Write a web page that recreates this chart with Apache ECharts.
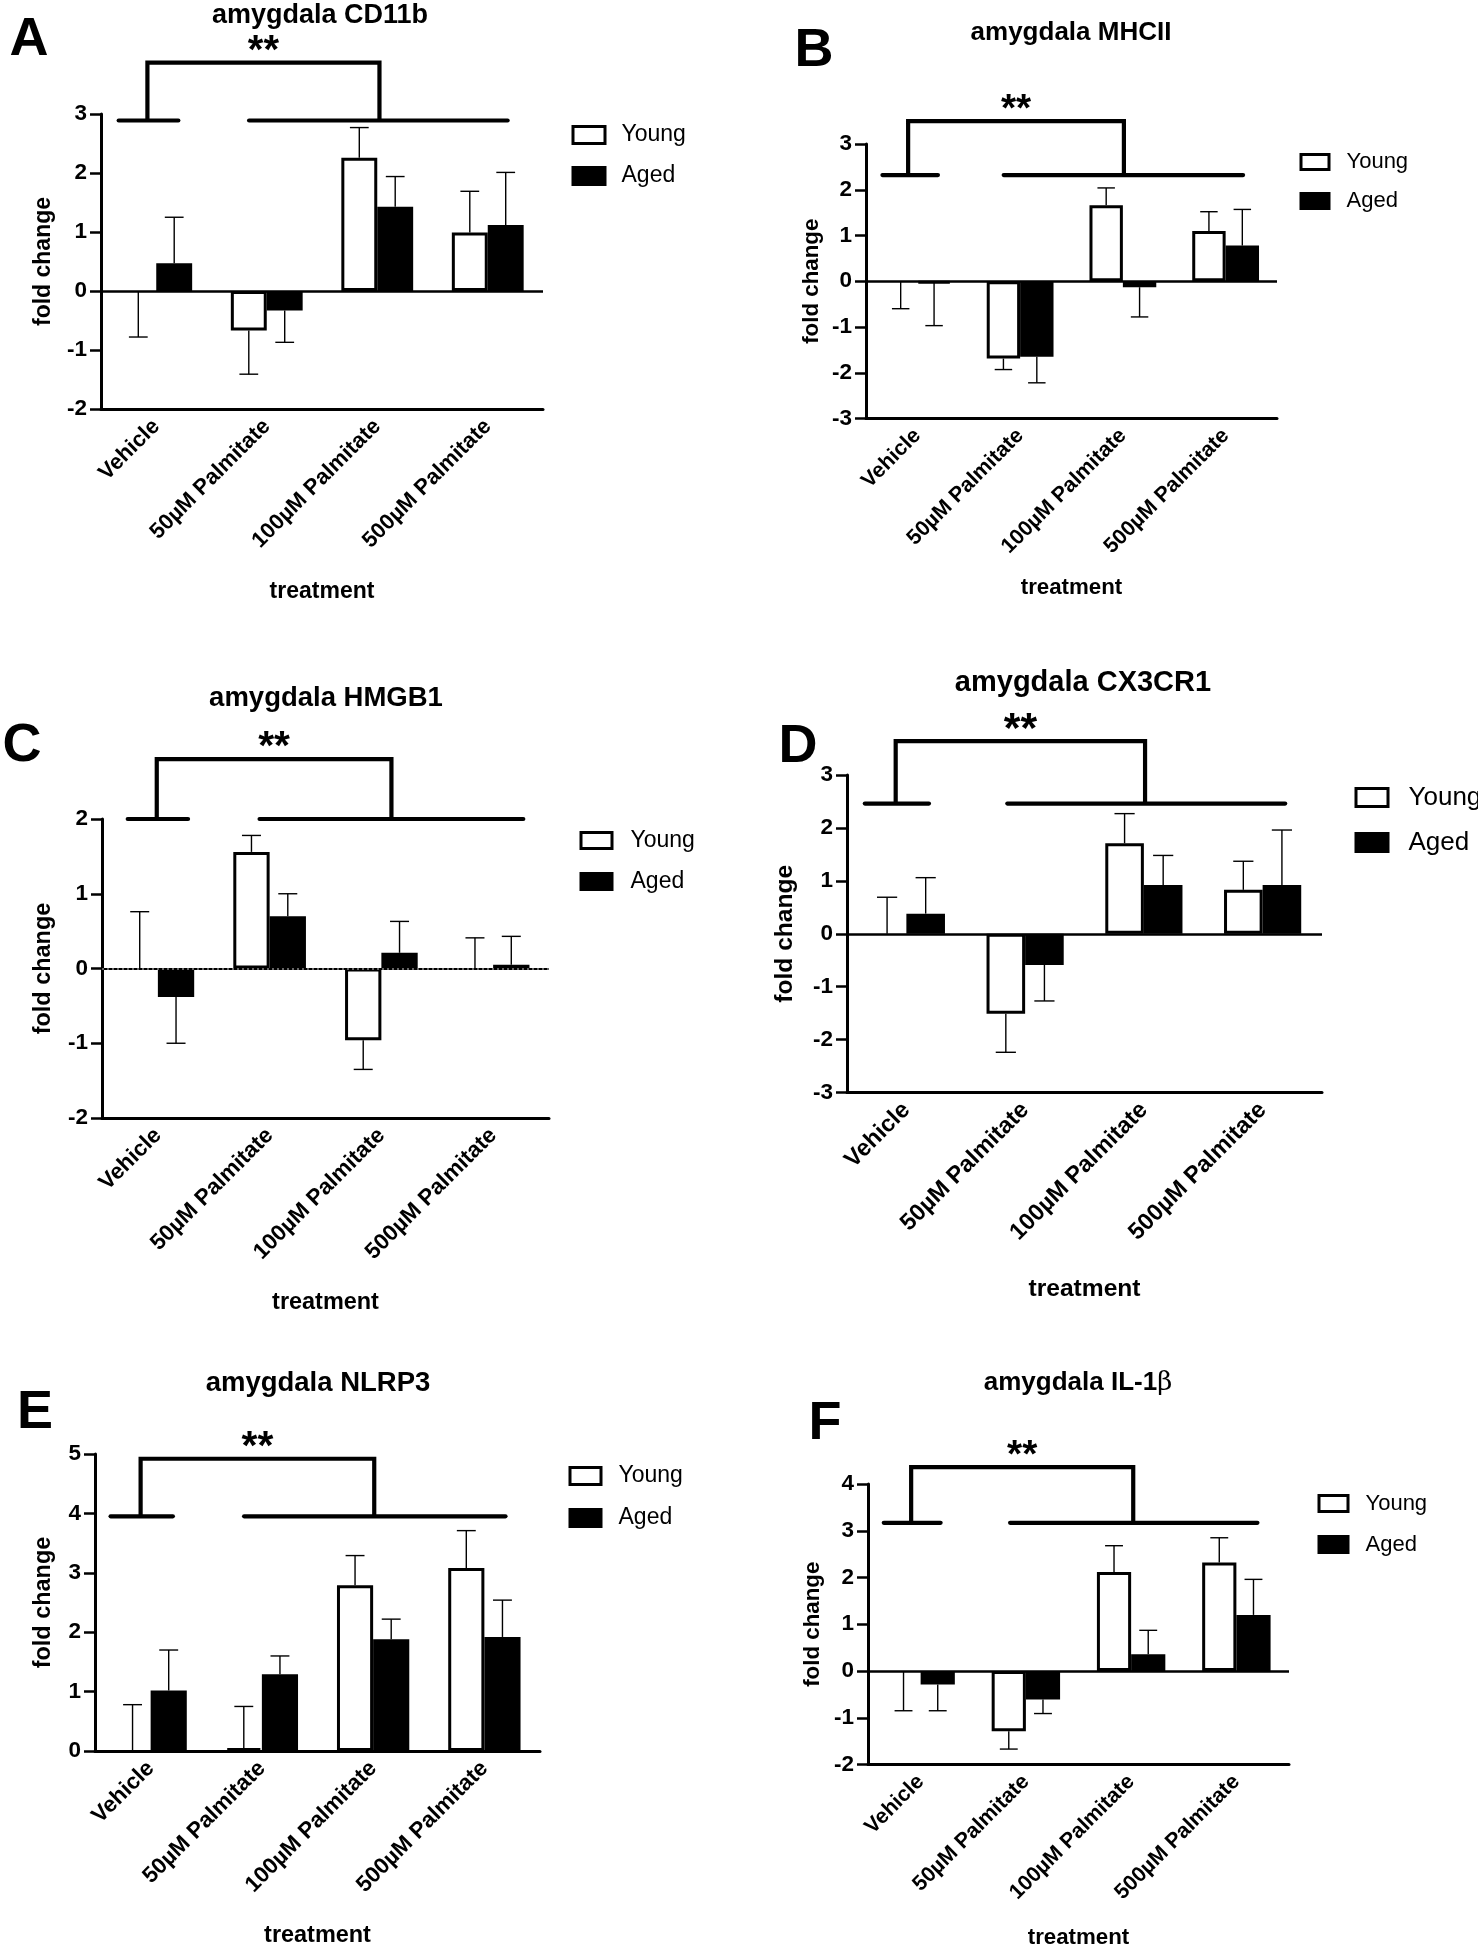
<!DOCTYPE html>
<html>
<head>
<meta charset="utf-8">
<script src="https://cdn.jsdelivr.net/npm/echarts@6/dist/echarts.min.js"></script>
<style>
html,body{margin:0;padding:0;background:#fff;}
#c{width:1478px;height:1950px;}
</style>
</head>
<body>
<div id="c"></div>
<script>
// ---------- DATA ----------
const categories = ['Vehicle', '50µM Palmitate', '100µM Palmitate', '500µM Palmitate'];
const seriesNames = ['Young', 'Aged'];

// A: amygdala CD11b
const youngA = [0, -0.67, 2.26, 0.99];
const youngErrA = [-0.78, -1.41, 2.77, 1.69];
const agedA = [0.47, -0.33, 1.43, 1.12];
const agedErrA = [1.25, -0.87, 1.94, 2.01];
// B: amygdala MHCII
const youngB = [0, -1.69, 1.66, 1.10];
const youngErrB = [-0.60, -1.93, 2.04, 1.52];
const agedB = [-0.04, -1.65, -0.13, 0.78];
const agedErrB = [-0.97, -2.22, -0.78, 1.57];
// C: amygdala HMGB1
const youngC = [0, 1.56, -0.96, 0];
const youngErrC = [0.76, 1.78, -1.35, 0.41];
const agedC = [-0.38, 0.70, 0.21, 0.05];
const agedErrC = [-1.00, 1.00, 0.63, 0.43];
// D: amygdala CX3CR1
const youngD = [0, -1.51, 1.71, 0.83];
const youngErrD = [0.69, -2.24, 2.27, 1.37];
const agedD = [0.38, -0.59, 0.92, 0.92];
const agedErrD = [1.06, -1.27, 1.48, 1.96];
// E: amygdala NLRP3
const youngE = [0, 0.05, 2.79, 3.08];
const youngErrE = [0.78, 0.75, 3.29, 3.71];
const agedE = [1.02, 1.29, 1.88, 1.92];
const agedErrE = [1.70, 1.60, 2.22, 2.54];
// F: amygdala IL-1β
const youngF = [0, -1.29, 2.12, 2.32];
const youngErrF = [-0.85, -1.67, 2.68, 2.85];
const agedF = [-0.29, -0.61, 0.36, 1.20];
const agedErrF = [-0.85, -0.91, 0.87, 1.96];

// y-axis ranges (tick labels every 1)
const yRangeA = [-2, 3];
const yRangeB = [-3, 3];
const yRangeC = [-2, 2];
const yRangeD = [-3, 3];
const yRangeE = [0, 5];
const yRangeF = [-2, 4];

// significance brackets in data units:
// [y of low lines, y of bracket top, short from, short to, long from, long to, left leg, right leg] (x in category index units)
const bracketA = [2.89, 3.87, -0.34, 0.20, 0.84, 3.18, -0.08, 2.02];
const bracketB = [2.32, 3.50, -0.34, 0.20, 0.84, 3.17, -0.09, 2.01];
const bracketC = [2.00, 2.80, -0.27, 0.27, 0.91, 3.27, -0.01, 2.09];
const bracketD = [2.46, 3.64, -0.35, 0.19, 0.85, 3.19, -0.09, 2.01];
const bracketE = [3.95, 4.92, -0.36, 0.20, 0.84, 3.19, -0.09, 2.01];
const bracketF = [3.17, 4.36, -0.35, 0.19, 0.85, 3.20, -0.09, 2.02];
const sigLabel = '**';

// ---------- LAYOUT (pixels / styles) ----------
const FONT = '"Liberation Sans", Arial, Helvetica, sans-serif';
// lg: [icon left, icon top, icon w, icon h, item pitch, text pad, font size]
const panels = [
  {letter:'A', title:'amygdala CD11b', young:youngA, youngErr:youngErrA, aged:agedA, agedErr:agedErrA, yr:yRangeA, br:bracketA,
   grid:[101,114,442,295], t:[320,16,27], L:[29,40], lg:[571.5,126.5,32,17,41,11.5,23], yGap:45.5, xGap:171, k:1},
  {letter:'B', title:'amygdala MHCII', young:youngB, youngErr:youngErrB, aged:agedB, agedErr:agedErrB, yr:yRangeB, br:bracketB,
   grid:[866,144,411,274.5], t:[1071,33,26], L:[814,51], lg:[1299.5,154.5,28,15,39,12.5,22], yGap:43, xGap:158, k:0.97},
  {letter:'C', title:'amygdala HMGB1', young:youngC, youngErr:youngErrC, aged:agedC, agedErr:agedErrC, yr:yRangeC, br:bracketC,
   grid:[102,819,447,299], t:[326,698,27.5], L:[22,746], lg:[579.5,832.5,31,16,41,13.5,23], yGap:46.5, xGap:173.5, k:1.02, dotted:true},
  {letter:'D', title:'amygdala CX3CR1', young:youngD, youngErr:youngErrD, aged:agedD, agedErr:agedErrD, yr:yRangeD, br:bracketD,
   grid:[847,775,475,317.5], t:[1083,683,29], L:[798,747], lg:[1354.5,788.5,32,18,45,15.5,26], yGap:49.5, xGap:184, k:1.07},
  {letter:'E', title:'amygdala NLRP3', young:youngE, youngErr:youngErrE, aged:agedE, agedErr:agedErrE, yr:yRangeE, br:bracketE,
   grid:[95,1454,445,297], t:[318,1383,27.5], L:[35,1413], lg:[568.5,1467.5,31,17,42,12.5,23], yGap:39.5, xGap:173.5, k:1.02},
  {letter:'F', title:'amygdala IL-1{b|β}', young:youngF, youngErr:youngErrF, aged:agedF, agedErr:agedErrF, yr:yRangeF, br:bracketF,
   grid:[868,1484,421,282], t:[1078,1383,26], L:[825,1424], lg:[1317.5,1495.5,29,16,41,12.5,22], yGap:44, xGap:162.5, k:0.97}
];

const chart = echarts.init(document.getElementById('c'), null, {renderer:'canvas', width:1478, height:1950});
const option = {animation:false, backgroundColor:'#fff', grid:[], xAxis:[], yAxis:[], series:[], legend:[], graphic:[]};

function errRender(params, api) {
  const cat = api.value(0), mean = api.value(1), end = api.value(2), side = api.value(3);
  const w = api.size([1, 0])[0];
  const base = api.coord([cat, mean]);
  const tip = api.coord([cat, end]);
  const x = base[0] + side * 0.1625 * w;
  const half = 0.085 * w;
  const st = {stroke:'#000', lineWidth:1.4};
  return {type:'group', children:[
    {type:'line', shape:{x1:x, y1:base[1], x2:x, y2:tip[1]}, style:st},
    {type:'line', shape:{x1:x-half, y1:tip[1], x2:x+half, y2:tip[1]}, style:st}
  ]};
}

function bracketRender(b, k) {
  return function (params, api) {
    const w = api.size([1, 0])[0];
    const p0 = api.coord([0, b[0]]);
    const yLow = p0[1];
    const yTop = api.coord([0, b[1]])[1];
    const X = f => p0[0] + f * w;
    const st = {stroke:'#000', lineWidth:4.2, lineCap:'round', lineJoin:'miter', fill:null};
    const xl = X(b[6]), xr = X(b[7]);
    return {type:'group', children:[
      {type:'line', shape:{x1:X(b[2]), y1:yLow, x2:X(b[3]), y2:yLow}, style:st},
      {type:'line', shape:{x1:X(b[4]), y1:yLow, x2:X(b[5]), y2:yLow}, style:st},
      {type:'polyline', shape:{points:[[xl, yLow], [xl, yTop], [xr, yTop], [xr, yLow]]}, style:Object.assign({}, st, {lineCap:'butt'})},
      {type:'text', x:(xl + xr) / 2, y:yTop - 11, style:{text:sigLabel, fontFamily:FONT, fontWeight:'bold', fontSize:40 * k, fill:'#000', align:'center', verticalAlign:'middle'}}
    ]};
  };
}

// bars whose value is exactly zero are not drawn as an outline
const barItems = (vals) => vals.map(v => v === 0
  ? {value:v, itemStyle:{borderWidth:0, color:'transparent'}}
  : {value:v});

panels.forEach((p, i) => {
  const k = p.k;
  option.grid.push({left:p.grid[0], top:p.grid[1], width:p.grid[2], height:p.grid[3]});
  option.xAxis.push({
    gridIndex:i, type:'category', data:categories,
    name:'treatment', nameLocation:'middle', nameGap:p.xGap,
    nameTextStyle:{fontFamily:FONT, fontWeight:'bold', fontSize:23 * k, color:'#000'},
    axisLine:{onZero:false, lineStyle:{color:'#000', width:3}},
    axisTick:{alignWithLabel:true, length:12, lineStyle:{color:'#000', width:2.5}},
    axisLabel:{interval:0, rotate:45, margin:14, fontFamily:FONT, fontWeight:'bold', fontSize:22 * k, color:'#000'},
    splitLine:{show:false}
  });
  option.yAxis.push({
    gridIndex:i, type:'value', min:p.yr[0], max:p.yr[1], interval:1,
    name:'fold change', nameLocation:'middle', nameGap:p.yGap, nameRotate:90,
    nameTextStyle:{fontFamily:FONT, fontWeight:'bold', fontSize:23 * k, color:'#000'},
    axisLine:{show:true, lineStyle:{color:'#000', width:3}},
    axisTick:{show:true, length:11, lineStyle:{color:'#000', width:2.5}},
    axisLabel:{margin:14, fontFamily:FONT, fontWeight:'bold', fontSize:22.5, color:'#000'},
    splitLine:{show:false}
  });
  const zeroLine = p.yr[0] < 0 ? {
    silent:true, symbol:['none', 'none'], label:{show:false},
    lineStyle:{color:'#000', width:p.dotted ? 2 : 2.5, type:'solid'},
    data:[{yAxis:0}]
  } : undefined;
  option.series.push({
    type:'bar', name:seriesNames[0], xAxisIndex:i, yAxisIndex:i, data:barItems(p.young),
    barGap:'0%', barCategoryGap:'35%',
    itemStyle:{color:'#fff', borderColor:'#000', borderWidth:3},
    markLine:zeroLine, z:2
  });
  option.series.push({
    type:'bar', name:seriesNames[1], xAxisIndex:i, yAxisIndex:i, data:barItems(p.aged),
    barGap:'0%', barCategoryGap:'35%',
    itemStyle:{color:'#000', borderColor:'#000', borderWidth:3}, z:2
  });
  if (p.dotted) {
    option.series.push({
      type:'line', xAxisIndex:i, yAxisIndex:i, data:[], silent:true,
      markLine:{silent:true, symbol:['none','none'], label:{show:false},
        lineStyle:{color:'#888', width:1.5, type:[2, 3]}, data:[{yAxis:0}]}, z:3
    });
  }
  const errData = p.young.map((v, j) => [j, v, p.youngErr[j], -1])
    .concat(p.aged.map((v, j) => [j, v, p.agedErr[j], 1]));
  option.series.push({
    type:'custom', xAxisIndex:i, yAxisIndex:i, data:errData, renderItem:errRender, clip:false, silent:true, z:3
  });
  option.series.push({
    type:'custom', xAxisIndex:i, yAxisIndex:i, data:[[0, p.br[0]]], renderItem:bracketRender(p.br, k), clip:false, silent:true, z:4
  });
  const lg = p.lg;
  const fs = lg[6];
  option.legend.push({
    left:lg[0], top:lg[1] - Math.max(0, (fs - lg[3]) / 2), orient:'vertical', padding:0, selectedMode:false,
    itemWidth:lg[2], itemHeight:lg[3], itemGap:lg[4] - Math.max(fs, lg[3]),
    textStyle:{fontFamily:FONT, fontSize:fs, color:'#000', padding:[0, 0, 0, lg[5]]},
    data:[
      {name:seriesNames[0], icon:'rect', itemStyle:{color:'#fff', borderColor:'#000', borderWidth:3}},
      {name:seriesNames[1], icon:'rect', itemStyle:{color:'#000', borderColor:'#000', borderWidth:3}}
    ]
  });
  option.graphic.push({
    type:'text', x:p.t[0], y:p.t[1],
    style:{text:p.title, fontFamily:FONT, fontWeight:'bold', fontSize:p.t[2], fill:'#000', align:'center', verticalAlign:'middle',
      rich:{b:{fontFamily:'"DejaVu Serif", "Liberation Serif", serif', fontWeight:'normal', fontSize:p.t[2], fill:'#000'}}}
  });
  option.graphic.push({
    type:'text', x:p.L[0], y:p.L[1],
    style:{text:p.letter, fontFamily:FONT, fontWeight:'bold', fontSize:54, fill:'#000', align:'center', verticalAlign:'middle'}
  });
});

chart.setOption(option);
</script>
</body>
</html>
